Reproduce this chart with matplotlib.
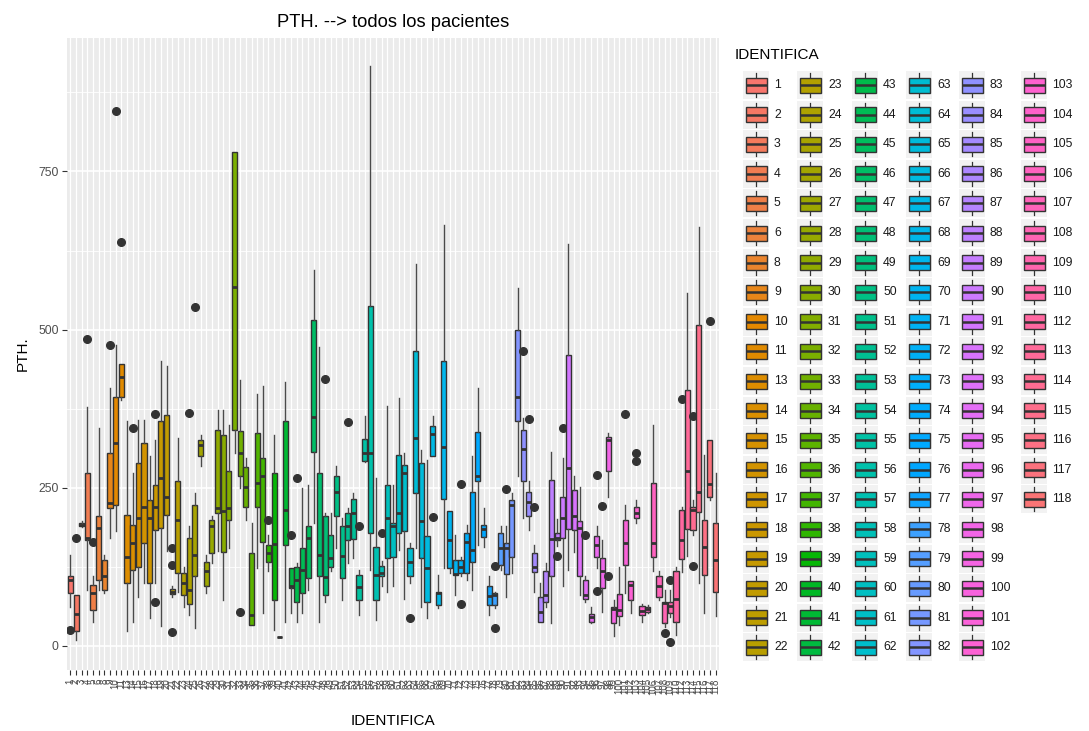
import numpy as np
import matplotlib
matplotlib.use("Agg")
import matplotlib.pyplot as plt
from matplotlib.patches import Rectangle

plt.rcParams['font.family'] = ['Liberation Sans', 'DejaVu Sans']

# ---------------- data ----------------
ids = [1, 2, 3, 4, 5, 6, 8, 9, 10, 11, 13, 14, 15, 16, 17, 18, 19, 20, 21, 22,
       23, 24, 25, 26, 27, 28, 29, 30, 31, 32, 33, 34, 35, 36, 37, 38, 39, 40, 41, 42,
       43, 44, 45, 46, 47, 48, 49, 50, 51, 52, 53, 54, 55, 56, 57, 58, 59, 60, 61, 62,
       63, 64, 65, 66, 67, 68, 69, 70, 71, 72, 73, 74, 75, 76, 77, 78, 79, 80, 81, 82,
       83, 84, 85, 86, 87, 88, 89, 90, 91, 92, 93, 94, 95, 96, 97, 98, 99, 100, 101, 102,
       103, 104, 105, 106, 107, 108, 109, 110, 112, 113, 114, 115, 116, 117, 118]

whislo = [62, 9, 188, 89, 38, 89, 83, 170, 181, 389, 23, 38, 78, 100, 44, 100, 31, 150, 78, 86,
          62, 49, 28, 284, 83, 131, 150, 73, 155, 305, 250, 199, 33, 123, 52, 118, 25, 14, 38, 52,
          38, 52, 89, 194, 38, 70, 119, 155, 73, 131, 139, 49, 290, 120, 41, 94, 86, 94, 152, 75,
          100, 155, 62, 44, 300, 60, 123, 115, 81, 110, 104, 89, 160, 157, 49, 60, 120, 78, 115, 268,
          202, 184, 86, 38, 62, 36, 158, 94, 120, 149, 81, 70, 37, 123, 54, 236, 15, 33, 83, 52,
          194, 38, 52, 118, 73, 30, 45, 17, 117, 142, 176, 99, 52, 230, 47]
q1 = [84, 23, 189, 168, 57, 104, 89, 218, 223, 394, 99, 120, 125, 162, 99, 184, 186, 207, 82, 116,
      81, 67, 110, 300, 94, 147, 210, 149, 199, 342, 269, 220, 33, 220, 165, 133, 73, 14, 160, 91,
      70, 83, 107, 307, 110, 81, 125, 205, 107, 168, 169, 73, 292, 178, 73, 110, 139, 141, 178, 181,
      110, 242, 139, 70, 300, 65, 232, 123, 112, 115, 115, 133, 260, 172, 65, 65, 128, 114, 141, 355,
      260, 206, 117, 38, 70, 110, 168, 170, 185, 183, 110, 75, 38, 141, 91, 276, 36, 47, 128, 73,
      202, 49, 54, 140, 77, 37, 52, 38, 137, 185, 183, 212, 112, 236, 85]
med = [104, 50, 191, 170, 83, 186, 110, 226, 321, 425, 141, 162, 202, 220, 202, 220, 265, 236, 86, 199,
       99, 89, 144, 317, 118, 189, 218, 213, 218, 568, 305, 252, 49, 258, 268, 147, 161, 14, 215, 94,
       104, 120, 170, 362, 144, 109, 139, 243, 142, 189, 210, 93, 305, 305, 112, 115, 202, 189, 210, 273,
       133, 329, 198, 124, 335, 83, 315, 168, 114, 125, 165, 151, 269, 185, 79, 80, 155, 155, 223, 393,
       311, 227, 125, 54, 81, 169, 171, 202, 281, 205, 186, 81, 45, 160, 118, 326, 58, 57, 163, 97,
       210, 56, 58, 163, 94, 68, 63, 75, 167, 276, 215, 243, 157, 256, 136]
q3 = [111, 81, 194, 273, 97, 205, 136, 305, 394, 445, 207, 191, 289, 321, 231, 255, 355, 365, 90, 260,
      115, 170, 223, 326, 133, 199, 342, 334, 276, 781, 340, 283, 147, 336, 297, 160, 274, 14, 355, 123,
      125, 155, 189, 516, 273, 205, 176, 268, 189, 210, 232, 112, 327, 537, 157, 127, 255, 194, 302, 286,
      155, 466, 289, 174, 347, 86, 450, 213, 136, 136, 178, 244, 338, 191, 94, 83, 178, 163, 231, 499,
      341, 244, 147, 78, 118, 262, 178, 235, 460, 247, 197, 104, 51, 174, 139, 331, 62, 82, 199, 102,
      220, 63, 61, 257, 110, 70, 70, 118, 215, 404, 219, 508, 199, 326, 194]
whishi = [144, 81, 197, 377, 110, 344, 144, 408, 476, 445, 356, 273, 357, 357, 300, 326, 450, 442, 94, 329,
          125, 190, 242, 334, 144, 205, 373, 373, 350, 781, 421, 297, 194, 398, 411, 175, 334, 14, 418, 123,
          131, 249, 255, 595, 473, 210, 210, 284, 202, 218, 242, 120, 363, 916, 265, 135, 379, 255, 392, 305,
          163, 603, 310, 294, 364, 112, 666, 213, 175, 140, 191, 300, 408, 218, 110, 85, 189, 189, 242, 566,
          360, 260, 160, 99, 131, 307, 200, 297, 636, 268, 252, 110, 62, 190, 168, 336, 73, 125, 223, 102,
          231, 66, 64, 350, 118, 89, 88, 125, 220, 558, 230, 663, 302, 326, 273]
outliers = [[26], [170], [], [485], [165], [], [], [475], [846], [639],
            [], [344], [], [], [], [366, 70], [], [], [155, 128, 22], [],
            [], [368], [536], [], [], [], [], [], [], [],
            [53], [], [], [], [], [199], [], [], [], [176],
            [265], [], [], [], [], [422], [], [], [], [354],
            [], [190], [], [], [], [178], [], [], [], [],
            [44], [], [], [], [204], [], [], [], [], [256, 66],
            [], [], [], [], [], [126, 29], [], [248], [], [],
            [466], [359], [219], [], [], [], [142], [344], [], [],
            [], [176], [], [270, 87], [221], [110], [], [], [366], [],
            [305, 293], [], [], [], [], [20], [105, 7], [], [390], [],
            [364, 127], [], [], [514], []]

title = "PTH. --> todos los pacientes"
xlabel = "IDENTIFICA"
ylabel = "PTH."
yticks = [0, 250, 500, 750]


# ---------------- ggplot hue palette ----------------
def hcl_to_rgb(h, c, l):
    Xn, Yn, Zn = 95.047, 100.0, 108.883
    hr = np.deg2rad(h)
    U, V = c * np.cos(hr), c * np.sin(hr)
    Y = Yn * ((l + 16) / 116) ** 3 if l > 8 else Yn * l / 903.3
    den = Xn + 15 * Yn + 3 * Zn
    un, vn = 4 * Xn / den, 9 * Yn / den
    u = U / (13 * l) + un
    v = V / (13 * l) + vn
    X = 9.0 * Y * u / (4 * v)
    Z = -X / 3 - 5 * Y + 3 * Y / v
    X, Y, Z = X / 100, Y / 100, Z / 100
    r = 3.240479 * X - 1.537150 * Y - 0.498535 * Z
    g = -0.969256 * X + 1.875992 * Y + 0.041556 * Z
    b = 0.055648 * X - 0.204043 * Y + 1.057311 * Z
    def gam(t):
        t = 12.92 * t if t <= 0.0031308 else 1.055 * t ** (1 / 2.4) - 0.055
        return min(max(t, 0), 1)
    return (gam(r), gam(g), gam(b))


n = len(ids)
hues = (15 + np.arange(n) * 360.0 / n) % 360
colors = [hcl_to_rgb(h, 100, 65) for h in hues]

# ---------------- figure ----------------
W, H = 1089, 731
fig = plt.figure(figsize=(W / 100, H / 100), dpi=100)
pl, pr, pt, pb = 67, 719, 38, 670
ax = fig.add_axes([pl / W, 1 - pb / H, (pr - pl) / W, (pb - pt) / H])
ax.set_facecolor('#EBEBEB')

positions = np.arange(1, n + 1)
stats = []
for i in range(n):
    stats.append(dict(med=med[i], q1=q1[i], q3=q3[i], whislo=whislo[i],
                      whishi=whishi[i], fliers=outliers[i]))

# grid
for yv in [125, 375, 625, 875]:
    ax.axhline(yv, color='white', lw=0.6, zorder=0.5)
for yv in yticks:
    ax.axhline(yv, color='white', lw=1.2, zorder=0.6)
for xv in positions:
    ax.axvline(xv, color='white', lw=0.9, zorder=0.6)

bp = ax.bxp(stats, positions=positions, widths=0.9, patch_artist=True,
            showcaps=False, manage_ticks=False,
            boxprops=dict(edgecolor='#333333', linewidth=1.0),
            whiskerprops=dict(color='#4a4a4a', linewidth=1.0),
            medianprops=dict(color='#333333', linewidth=2.0, solid_capstyle='butt'),
            flierprops=dict(marker='o', markerfacecolor='#333333', markeredgecolor='#333333',
                            markersize=5.5))
for patch, col in zip(bp['boxes'], colors):
    patch.set_facecolor(col)
    patch.set_zorder(2)

ax.set_xlim(0.4, n + 0.6)
ax.set_ylim(-38, 961)
for s in ax.spines.values():
    s.set_visible(False)
ax.set_yticks(yticks)
ax.set_yticklabels([str(v) for v in yticks], fontsize=8.8, color='#4D4D4D')
ax.set_xticks(positions)
ax.set_xticklabels([str(v) for v in ids], rotation=90, fontsize=7.0, color='#4D4D4D',
                   va='top', ha='center')
ax.tick_params(axis='both', length=3.5, width=0.8, color='#333333', pad=2.5)

ax.set_xlabel(xlabel, fontsize=11, labelpad=14)
ax.set_ylabel(ylabel, fontsize=11, labelpad=6)
ax.set_title(title, fontsize=13.2, pad=8)

# ---------------- legend (manual, ggplot style) ----------------
lg = fig.add_axes([0, 0, 1, 1])
lg.set_xlim(0, W)
lg.set_ylim(H, 0)
lg.axis('off')
lg.text(735, 55, "IDENTIFICA", fontsize=11, va='center', ha='left')
col_centers = [756, 810, 865, 919, 972, 1034]
row0, rstep = 85, 29.6
per_col = 20
for i, (lab, col) in enumerate(zip(ids, colors)):
    c, r = divmod(i, per_col)
    cx, cy = col_centers[c], row0 + r * rstep
    kw, kh = 26, 28
    lg.add_patch(Rectangle((cx - kw / 2, cy - kh / 2), kw, kh, facecolor='#F2F2F2',
                           edgecolor='none', zorder=1))
    bw, bh = 21, 15
    lg.plot([cx, cx], [cy - 12, cy - bh / 2], color='#333333', lw=0.9, zorder=2)
    lg.plot([cx, cx], [cy + bh / 2, cy + 12], color='#333333', lw=0.9, zorder=2)
    lg.add_patch(Rectangle((cx - bw / 2, cy - bh / 2), bw, bh, facecolor=col,
                           edgecolor='#333333', lw=1.0, zorder=3))
    lg.plot([cx - bw / 2, cx + bw / 2], [cy, cy], color='#333333', lw=1.8, zorder=4,
            solid_capstyle='butt')
    lg.text(cx + 18, cy, str(lab), fontsize=8.8, va='center', ha='left', color='#1A1A1A')

fig.savefig("out.png", dpi=100)
